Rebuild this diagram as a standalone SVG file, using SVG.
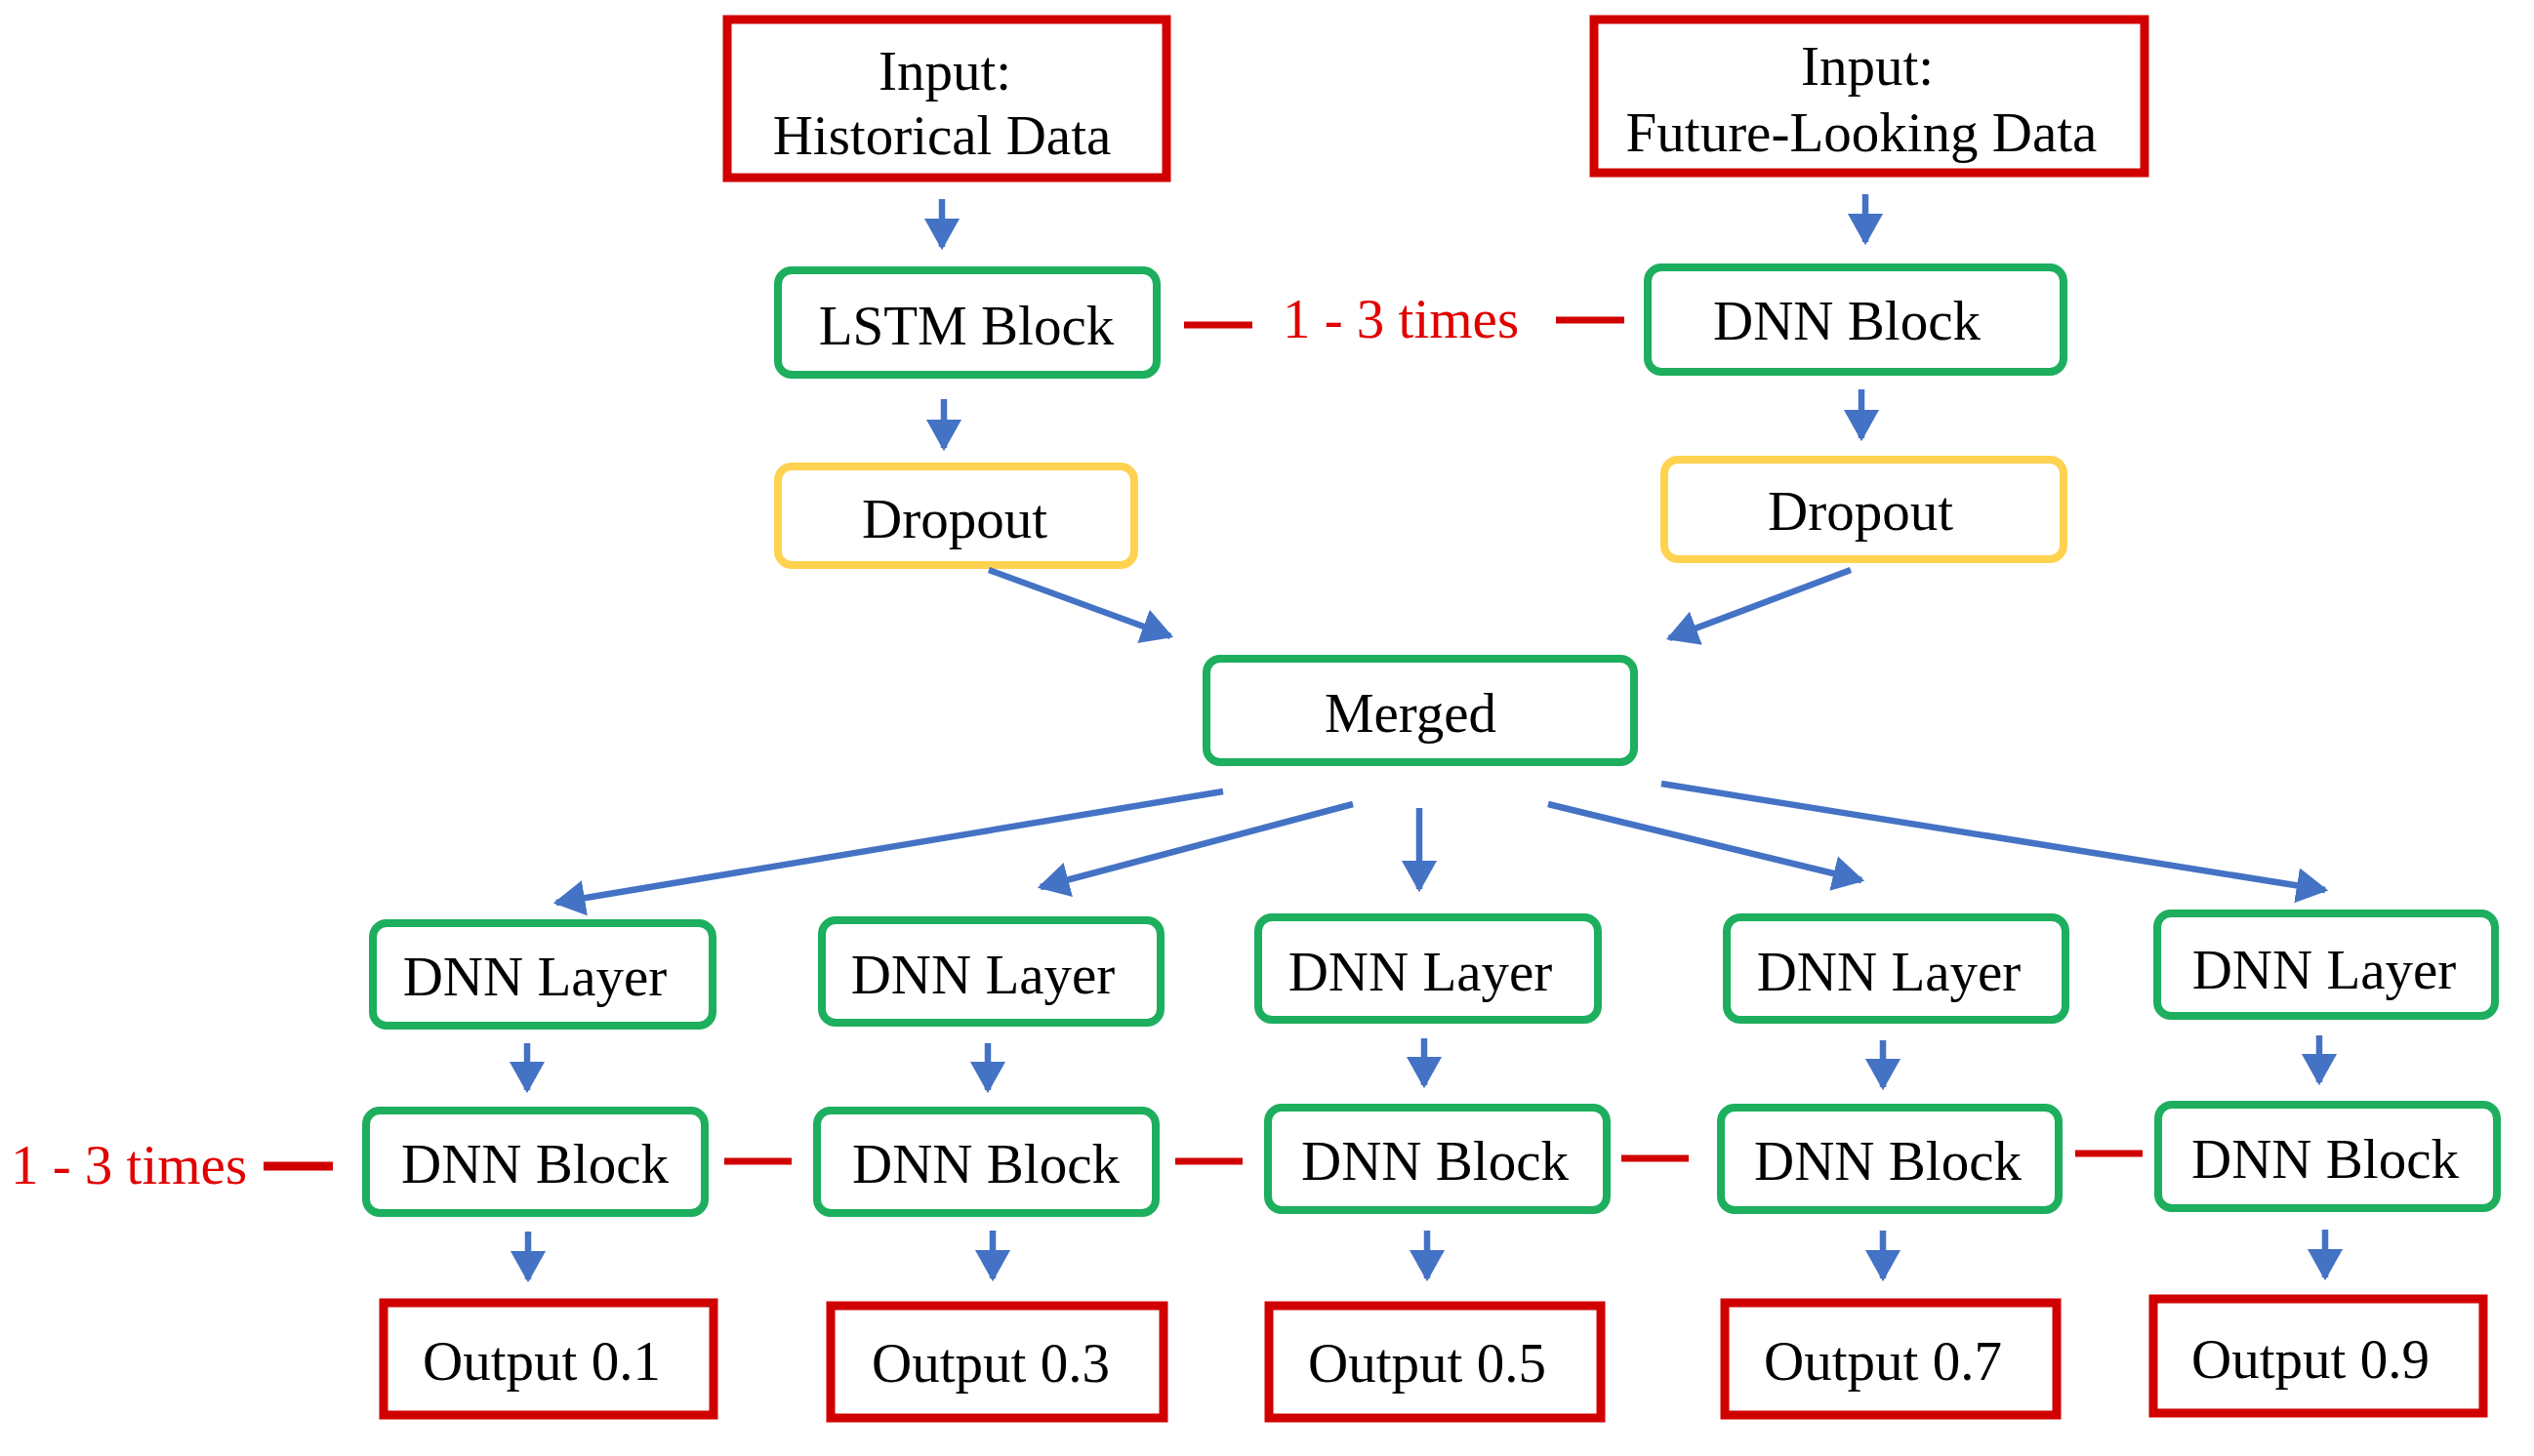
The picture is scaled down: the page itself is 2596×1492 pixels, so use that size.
<svg xmlns="http://www.w3.org/2000/svg" width="2596" height="1492" viewBox="0 0 2596 1492">
<defs>
<style>
.red{fill:#fff;stroke:#D00000;stroke-width:9}
.grn{fill:#fff;stroke:#1DAE5E;stroke-width:8}
.yel{fill:#fff;stroke:#FFD24F;stroke-width:8}
.t{font-family:"Liberation Serif","Times New Roman",serif;font-size:57px;fill:#000;text-anchor:middle}
.rt{font-family:"Liberation Serif","Times New Roman",serif;font-size:57px;fill:#E00000;text-anchor:middle}
.arr{stroke:#4472C4;stroke-width:6.5;fill:none;marker-end:url(#ah)}
.dash{stroke:#D00000;stroke-width:7;fill:none}
</style>
<marker id="ah" markerWidth="6" markerHeight="6" refX="4.5" refY="3" orient="auto" markerUnits="strokeWidth">
<path d="M0,0.2 L5,3 L0,5.8 Z" fill="#4472C4"/>
</marker>
</defs>
<rect width="2596" height="1492" fill="#fff"/>

<g id="in-hist"><rect class="red" x="745" y="20" width="450" height="162"/><text class="t" x="968" y="92">Input:</text><text class="t" x="965" y="158">Historical Data</text></g>
<g id="in-future"><rect class="red" x="1633" y="20" width="564" height="157"/><text class="t" x="1913" y="87">Input:</text><text class="t" x="1907" y="155">Future-Looking Data</text></g>
<g id="lstm"><rect class="grn" x="797" y="277" width="388" height="107" rx="14"/><text class="t" x="990" y="353">LSTM Block</text></g>
<g id="dnn-top"><rect class="grn" x="1688" y="274" width="426" height="107" rx="14"/><text class="t" x="1892" y="348">DNN Block</text></g>
<g id="drop-l"><rect class="yel" x="797" y="478" width="365" height="101" rx="14"/><text class="t" x="978" y="551">Dropout</text></g>
<g id="drop-r"><rect class="yel" x="1705" y="471" width="409" height="102" rx="14"/><text class="t" x="1906" y="543">Dropout</text></g>
<g id="merged"><rect class="grn" x="1236" y="675" width="438" height="106" rx="14"/><text class="t" x="1445" y="750">Merged</text></g>

<g id="layer1"><rect class="grn" x="382" y="946" width="348" height="105" rx="14"/><text class="t" x="548" y="1020">DNN Layer</text></g>
<g id="layer2"><rect class="grn" x="842" y="943" width="347" height="105" rx="14"/><text class="t" x="1007" y="1018">DNN Layer</text></g>
<g id="layer3"><rect class="grn" x="1289" y="940" width="348" height="105" rx="14"/><text class="t" x="1455" y="1015">DNN Layer</text></g>
<g id="layer4"><rect class="grn" x="1769" y="940" width="347" height="105" rx="14"/><text class="t" x="1935" y="1015">DNN Layer</text></g>
<g id="layer5"><rect class="grn" x="2210" y="936" width="346" height="105" rx="14"/><text class="t" x="2381" y="1013">DNN Layer</text></g>

<g id="block1"><rect class="grn" x="375" y="1138" width="347" height="105" rx="14"/><text class="t" x="548" y="1212">DNN Block</text></g>
<g id="block2"><rect class="grn" x="837" y="1138" width="347" height="105" rx="14"/><text class="t" x="1010" y="1212">DNN Block</text></g>
<g id="block3"><rect class="grn" x="1299" y="1135" width="347" height="105" rx="14"/><text class="t" x="1470" y="1209">DNN Block</text></g>
<g id="block4"><rect class="grn" x="1763" y="1135" width="346" height="105" rx="14"/><text class="t" x="1934" y="1209">DNN Block</text></g>
<g id="block5"><rect class="grn" x="2211" y="1132" width="347" height="106" rx="14"/><text class="t" x="2382" y="1207">DNN Block</text></g>

<g id="out1"><rect class="red" x="393" y="1335" width="338" height="115"/><text class="t" x="555" y="1414">Output 0.1</text></g>
<g id="out2"><rect class="red" x="851" y="1338" width="341" height="115"/><text class="t" x="1015" y="1416">Output 0.3</text></g>
<g id="out3"><rect class="red" x="1300" y="1338" width="340" height="115"/><text class="t" x="1462" y="1416">Output 0.5</text></g>
<g id="out4"><rect class="red" x="1767" y="1335" width="340" height="115"/><text class="t" x="1929" y="1414">Output 0.7</text></g>
<g id="out5"><rect class="red" x="2206" y="1331" width="338" height="117"/><text class="t" x="2367" y="1412">Output 0.9</text></g>

<g id="labels">
<text class="rt" x="1435" y="346">1 - 3 times</text>
<text class="rt" x="132" y="1213">1 - 3 times</text>
</g>

<g id="connectors">
<line class="arr" x1="965" y1="204" x2="965" y2="253"/>
<line class="arr" x1="1911" y1="199" x2="1911" y2="248"/>
<line class="arr" x1="967" y1="409" x2="967" y2="459"/>
<line class="arr" x1="1907" y1="399" x2="1907" y2="449"/>
<line class="arr" x1="1013" y1="584" x2="1199" y2="652"/>
<line class="arr" x1="1896" y1="584" x2="1710" y2="654"/>
<line class="arr" x1="1253" y1="811" x2="570" y2="925"/>
<line class="arr" x1="1386" y1="824" x2="1066" y2="909"/>
<line class="arr" x1="1454" y1="828" x2="1454" y2="911"/>
<line class="arr" x1="1586" y1="824" x2="1907" y2="902"/>
<line class="arr" x1="1702" y1="803" x2="2382" y2="912"/>
<line class="arr" x1="540" y1="1069" x2="540" y2="1117"/>
<line class="arr" x1="1012" y1="1069" x2="1012" y2="1117"/>
<line class="arr" x1="1459" y1="1064" x2="1459" y2="1112"/>
<line class="arr" x1="1929" y1="1066" x2="1929" y2="1114"/>
<line class="arr" x1="2376" y1="1061" x2="2376" y2="1109"/>
<line class="arr" x1="541" y1="1262" x2="541" y2="1311"/>
<line class="arr" x1="1017" y1="1261" x2="1017" y2="1310"/>
<line class="arr" x1="1462" y1="1261" x2="1462" y2="1310"/>
<line class="arr" x1="1929" y1="1261" x2="1929" y2="1310"/>
<line class="arr" x1="2382" y1="1260" x2="2382" y2="1309"/>
<line class="dash" x1="1213" y1="333" x2="1283" y2="333"/>
<line class="dash" x1="1594" y1="328" x2="1664" y2="328"/>
<line class="dash" x1="270" y1="1195" x2="341" y2="1195" style="stroke-width:9"/>
<line class="dash" x1="742" y1="1190" x2="811" y2="1190"/>
<line class="dash" x1="1204" y1="1190" x2="1273" y2="1190"/>
<line class="dash" x1="1661" y1="1187" x2="1730" y2="1187"/>
<line class="dash" x1="2126" y1="1182" x2="2195" y2="1182"/>
</g>
</svg>
